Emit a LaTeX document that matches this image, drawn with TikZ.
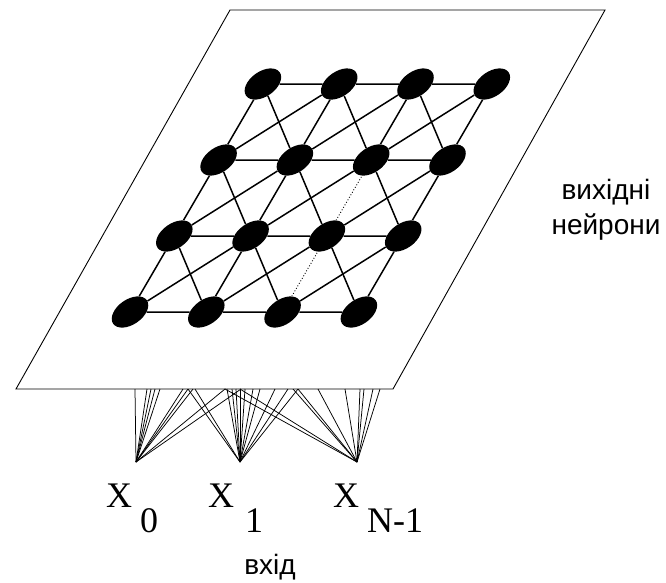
\documentclass[tikz,border=0pt]{standalone}
\usepackage{fontspec}
\setmainfont{Liberation Serif}
\newfontfamily\labelfont{Liberation Sans}
\usetikzlibrary{shapes.geometric, positioning, calc}

\begin{document}
\begin{tikzpicture}[x=1pt, y=-1pt,
    neuron/.style={ellipse, fill=black, minimum width=41pt, minimum height=25pt, inner sep=0pt, rotate=35},
    link/.style={line width=1.5pt},
    weak/.style={line width=0.9pt, dotted},
    plane/.style={line width=0.9pt},
    fan/.style={line width=0.75pt},
    inlabel/.style={font=\fontsize{36}{36}\selectfont, inner sep=0pt, anchor=base west},
    caption/.style={font=\labelfont\fontsize{28}{35}\selectfont, align=center, inner sep=0pt}
  ]
  \useasboundingbox (0,0) rectangle (666,582);

  % output plane
  \coordinate (tl) at (230,10);
  \coordinate (tr) at (605,10);
  \coordinate (br) at (393,389);
  \coordinate (bl) at (16,389);
  \draw[plane] (bl) -- (br) -- (tr) -- (tl) -- cycle;

  % neurons
  \foreach \i in {0,...,3}
    \foreach \j in {0,...,3}
      \node[neuron] (n\i\j) at ({130+76.3*\j+44.3*\i}, {312-76*\i}) {};

  % lattice
  \foreach \i in {0,...,3}
    \foreach \j [count=\k] in {0,1,2}
      \draw[link] (n\i\j) -- (n\i\k);
  \foreach \i [count=\ii] in {0,1,2} {
    \foreach \j in {0,1,3}
      \draw[link] (n\i\j) -- (n\ii\j);
    \foreach \j [count=\k] in {0,1,2}
      \draw[link] (n\i\j) -- (n\ii\k);
    \foreach \j [count=\k from 0] in {1,2,3}
      \draw[link] (n\i\j) -- (n\ii\k);
  }
  \draw[weak] (n02) -- (n12);
  \draw[weak] (n12) -- (n22);
  \draw[link] (n22) -- (n32);

  % inputs
  \coordinate (in0) at (136,462);
  \coordinate (in1) at (240,462);
  \coordinate (inN) at (357,462);
  \foreach \u in {135,147,151,155,160,183,188,193,225,241}
    \draw[fan] (in0) -- (\u,0 |- bl);
  \foreach \u in {188,195,227,232,236,240,245,253,260,275,288,298}
    \draw[fan] (in1) -- (\u,0 |- bl);
  \foreach \u in {225,240,293,298,318,345,360,364,373,380}
    \draw[fan] (inN) -- (\u,0 |- bl);

  % labels
  \node[inlabel] (x0) at (106,507) {X\kern8pt\raisebox{-25pt}{0}};
  \node[inlabel] (x1) at (208,507) {X\kern11pt\raisebox{-25pt}{1}};
  \node[inlabel] (xn) at (333,507) {X\kern8pt\raisebox{-25pt}{N-1}};
  \node[caption] (inp) at (270,567) {вхід};
  \node[caption] (out) at (606,210) {вихідні\\нейрони};
\end{tikzpicture}
\end{document}
